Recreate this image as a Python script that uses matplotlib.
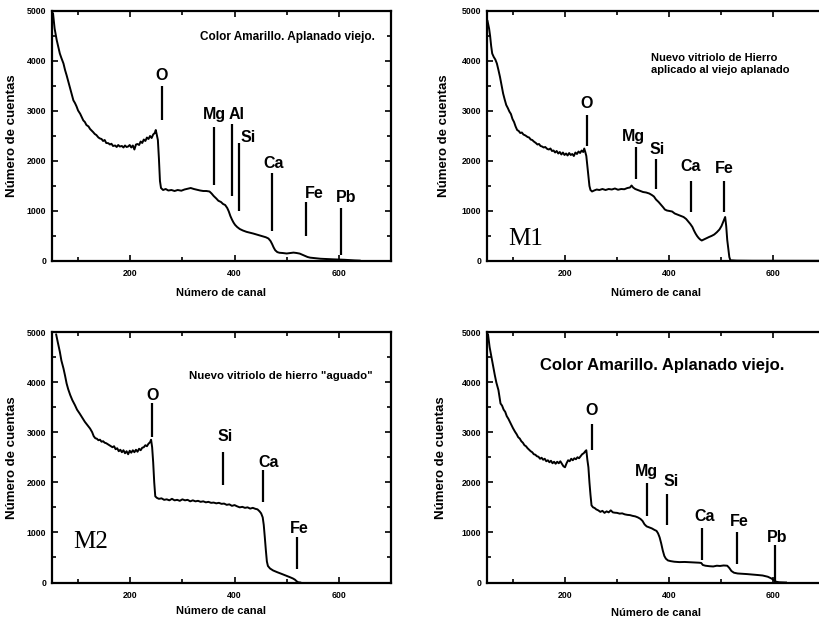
import matplotlib
matplotlib.use("Agg")
import matplotlib.pyplot as plt
from matplotlib.ticker import MultipleLocator

# ---------------- spectra (channel, counts) ----------------
ch_a = [52, 55, 59, 62, 65, 68, 72, 75, 78, 81, 84, 88, 91, 94, 97, 100, 104, 107, 110, 113,
        116, 120, 123, 126, 129, 132, 135, 139, 142, 145, 148, 151, 154, 158, 161, 164, 167,
        171, 174, 177, 180, 184, 187, 190, 193, 196, 199, 202, 205, 208, 211, 214, 217, 220,
        223, 226, 229, 232, 235, 238, 241, 244, 247, 249, 251, 253, 255, 257, 259, 263, 268,
        273, 279, 285, 291, 298, 304, 310, 316, 322, 328, 334, 340, 346, 352, 356, 360, 365,
        369, 374, 378, 382, 386, 389, 392, 395, 398, 401, 405, 410, 416, 423, 430, 436, 444,
        452, 460, 465, 469, 472, 475, 478, 482, 486, 492, 500, 507, 513, 519, 525, 530, 535,
        540, 545, 555, 565, 578, 590, 600, 610, 620, 630, 640]
counts_a = [4950, 4650, 4420, 4280, 4150, 4060, 3950, 3820, 3715, 3600, 3480, 3330, 3213, 3160,
            3093, 3010, 2945, 2880, 2812, 2780, 2720, 2691, 2640, 2610, 2577, 2540, 2520, 2470,
            2450, 2440, 2400, 2420, 2360, 2356, 2330, 2345, 2300, 2310, 2280, 2320, 2290, 2300,
            2270, 2310, 2280, 2290, 2320, 2270, 2310, 2230, 2330, 2340, 2320, 2390, 2360, 2430,
            2400, 2470, 2440, 2500, 2460, 2530, 2560, 2620, 2520, 2420, 2050, 1600, 1460, 1420,
            1440, 1410, 1420, 1400, 1420, 1406, 1430, 1445, 1460, 1440, 1425, 1410, 1400, 1400,
            1390, 1350, 1300, 1250, 1205, 1180, 1140, 1120, 1060, 990, 900, 830, 770, 723, 680,
            640, 610, 583, 565, 549, 525, 502, 475, 450, 400, 340, 270, 215, 178, 165, 160, 150,
            160, 168, 160, 148, 125, 100, 80, 67, 55, 45, 38, 33, 30, 25, 18, 12, 8]

ch_m1 = [51, 54, 56, 58, 60, 63, 66, 69, 72, 75, 78, 81, 84, 87, 90, 93, 96, 99, 102, 105, 108,
         111, 114, 117, 120, 124, 128, 131, 134, 137, 140, 144, 147, 150, 153, 156, 159, 162,
         166, 169, 172, 175, 178, 181, 184, 187, 190, 193, 196, 199, 202, 205, 208, 211, 214,
         217, 220, 223, 226, 229, 232, 235, 237, 239, 241, 243, 245, 247, 249, 252, 256, 261,
         266, 272, 278, 284, 290, 296, 302, 308, 314, 320, 325, 328, 331, 335, 340, 345, 350,
         356, 362, 367, 371, 375, 380, 385, 389, 392, 396, 401, 406, 411, 416, 422, 428, 433,
         437, 441, 445, 448, 451, 454, 457, 460, 463, 467, 472, 477, 482, 487, 492, 497, 501,
         505, 508, 510, 512, 514, 516, 518, 530, 560, 600, 650, 700]
counts_m1 = [4800, 4650, 4500, 4300, 4150, 4080, 4030, 3950, 3820, 3680, 3520, 3350, 3230, 3120,
             3060, 2990, 2940, 2840, 2780, 2690, 2620, 2600, 2560, 2570, 2530, 2510, 2480, 2470,
             2430, 2420, 2390, 2360, 2330, 2340, 2300, 2290, 2270, 2280, 2240, 2230, 2250, 2200,
             2210, 2170, 2200, 2150, 2180, 2130, 2170, 2120, 2150, 2110, 2160, 2120, 2140, 2100,
             2170, 2140, 2190, 2160, 2210, 2180, 2250, 2180, 2100, 1900, 1700, 1500, 1420, 1390,
             1410, 1430, 1420, 1440, 1420, 1440, 1430, 1450, 1425, 1440, 1435, 1460, 1470, 1510,
             1470, 1440, 1420, 1400, 1380, 1370, 1350, 1320, 1290, 1230, 1180, 1120, 1071, 1030,
             1010, 1000, 990, 950, 930, 905, 880, 840, 790, 740, 680, 610, 550, 500, 460, 430,
             410, 430, 456, 480, 502, 530, 575, 630, 700, 800, 880, 700, 420, 250, 80, 15, 8, 5,
             5, 4, 4]

ch_m2 = [58, 61, 65, 68, 72, 75, 78, 81, 85, 89, 94, 98, 103, 108, 113, 118, 123, 127, 130, 133,
         136, 139, 142, 145, 148, 151, 154, 157, 160, 163, 166, 169, 172, 175, 178, 181, 184,
         187, 190, 193, 196, 199, 202, 205, 208, 211, 214, 217, 220, 223, 226, 229, 232, 235,
         238, 240, 242, 244, 246, 248, 251, 255, 260, 265, 270, 275, 280, 285, 290, 295, 300,
         305, 310, 315, 320, 325, 330, 335, 340, 345, 350, 355, 360, 365, 370, 375, 380, 385,
         390, 395, 400, 405, 410, 415, 420, 425, 430, 435, 440, 444, 448, 451, 454, 456, 458,
         460, 462, 464, 468, 474, 482, 490, 498, 506, 512, 516, 519, 522, 526]
counts_m2 = [4950, 4800, 4607, 4430, 4273, 4130, 3973, 3860, 3740, 3640, 3540, 3450, 3373, 3290,
             3207, 3140, 3073, 3000, 2920, 2880, 2870, 2840, 2850, 2810, 2820, 2790, 2780, 2760,
             2740, 2720, 2700, 2720, 2660, 2680, 2620, 2650, 2600, 2640, 2580, 2620, 2560, 2630,
             2590, 2640, 2600, 2650, 2610, 2670, 2640, 2690, 2700, 2740, 2720, 2770, 2800, 2850,
             2700, 2400, 2000, 1720, 1690, 1670, 1680, 1650, 1660, 1640, 1670, 1640, 1650, 1630,
             1660, 1640, 1650, 1620, 1640, 1620, 1630, 1610, 1620, 1600, 1610, 1590, 1595, 1580,
             1590, 1570, 1575, 1550, 1560, 1530, 1545, 1520, 1500, 1510, 1490, 1500, 1475, 1490,
             1470, 1460, 1420, 1380, 1300, 1150, 907, 650, 420, 330, 280, 240, 205, 173, 140,
             107, 80, 55, 25, 5, 0]

ch_b = [52, 55, 59, 62, 65, 68, 72, 74, 76, 79, 82, 85, 88, 91, 94, 97, 100, 104, 107, 110, 113,
        116, 119, 122, 125, 128, 131, 134, 137, 140, 143, 146, 149, 152, 155, 158, 161, 164, 167,
        170, 173, 176, 179, 182, 185, 188, 191, 194, 197, 200, 203, 206, 209, 212, 215, 218, 221,
        224, 227, 230, 233, 236, 239, 241, 243, 245, 247, 249, 251, 254, 257, 260, 264, 268, 272,
        276, 280, 284, 288, 292, 296, 300, 305, 310, 315, 320, 325, 330, 335, 340, 345, 349, 353,
        357, 362, 367, 372, 376, 379, 382, 385, 388, 391, 394, 398, 403, 410, 420, 430, 440, 450,
        458, 462, 465, 470, 478, 485, 492, 498, 505, 512, 516, 520, 525, 532, 540, 550, 560, 570,
        580, 590, 597, 602, 606, 612, 625]
counts_b = [4950, 4700, 4473, 4300, 4140, 3990, 3840, 3700, 3573, 3530, 3450, 3407, 3320, 3270,
            3207, 3140, 3080, 3007, 2960, 2900, 2873, 2820, 2790, 2740, 2720, 2680, 2650, 2620,
            2600, 2560, 2550, 2520, 2510, 2470, 2490, 2450, 2470, 2420, 2440, 2400, 2430, 2380,
            2410, 2370, 2410, 2380, 2420, 2370, 2320, 2300, 2380, 2440, 2420, 2470, 2440, 2480,
            2460, 2500, 2480, 2520, 2560, 2580, 2620, 2640, 2450, 2300, 2000, 1750, 1540, 1500,
            1487, 1460, 1440, 1410, 1430, 1390, 1420, 1400, 1440, 1400, 1393, 1390, 1375, 1380,
            1360, 1350, 1345, 1330, 1320, 1300, 1270, 1230, 1160, 1120, 1100, 1080, 1050, 1030,
            980, 900, 780, 640, 530, 475, 440, 427, 415, 407, 410, 405, 400, 395, 390, 350, 335,
            325, 320, 335, 330, 340, 335, 290, 230, 195, 180, 175, 168, 160, 150, 140, 115, 80,
            45, 15, 5, 0]

# ---------------- element edge markers ----------------
# (symbol, channel, line bottom, line top, label x, label y)
marks_a = [("O", 260, 2811, 3494, 260, 3700),
           ("Mg", 360, 1526, 2677, 361, 2932),
           ("Al", 396, 1305, 2731, 404, 2932),
           ("Si", 409, 1004, 2355, 426, 2480),
           ("Ca", 471, 602, 1753, 474, 1945),
           ("Fe", 537, 502, 1171, 552, 1340),
           ("Pb", 604, 120, 1064, 614, 1272)]
marks_m1 = [("O", 242, 2310, 2912, 242, 3146),
            ("Mg", 336, 1640, 2276, 331, 2497),
            ("Si", 375, 1440, 2042, 378, 2229),
            ("Ca", 443, 971, 1607, 442, 1895),
            ("Fe", 506, 971, 1607, 506, 1841)]
marks_m2 = [("O", 242, 2907, 3573, 242, 3727),
            ("Si", 377, 1940, 2607, 382, 2907),
            ("Ca", 455, 1607, 2253, 465, 2393),
            ("Fe", 519, 273, 907, 524, 1073)]
marks_b = [("O", 251, 2640, 3173, 251, 3440),
           ("Mg", 358, 1320, 1987, 357, 2220),
           ("Si", 397, 1140, 1773, 405, 2020),
           ("Ca", 463, 440, 1093, 469, 1320),
           ("Fe", 530, 373, 1007, 535, 1227),
           ("Pb", 604, 7, 740, 607, 893)]

SANS = "Liberation Sans"
SERIF = "Liberation Serif"

fig = plt.figure(figsize=(8.19, 6.17), dpi=100)
fig.patch.set_facecolor("white")

W, H = 819.0, 617.0


def rect(left, top, right, bottom):
    return [left / W, 1 - bottom / H, (right - left) / W, (bottom - top) / H]


def panel(r, ch, counts, marks, ylab_x, xlab_y):
    ax = fig.add_axes(r)
    ax.plot(ch, counts, color="black", lw=1.4, solid_joinstyle="round")
    ax.set_xlim(50, 700)
    ax.set_ylim(0, 5000)
    ax.xaxis.set_major_locator(MultipleLocator(200))
    ax.xaxis.set_minor_locator(MultipleLocator(100))
    ax.yaxis.set_major_locator(MultipleLocator(1000))
    ax.yaxis.set_minor_locator(MultipleLocator(500))
    ax.tick_params(which="both", direction="in", top=True, right=True, width=1.2,
                   color="black")
    ax.tick_params(which="major", length=4.5, labelsize=6.3)
    ax.tick_params(axis="x", which="major", pad=6)
    ax.tick_params(axis="y", which="major", pad=4)
    ax.tick_params(which="minor", length=3)
    for lbl in ax.get_xticklabels() + ax.get_yticklabels():
        lbl.set_fontweight("bold")
        lbl.set_family(SANS)
    for s in ax.spines.values():
        s.set_linewidth(1.6)
    ax.set_xlabel("Número de canal", fontsize=8, fontweight="bold", family=SANS)
    ax.set_ylabel("Número de cuentas", fontsize=9.5, fontweight="bold", family=SANS)
    ax.yaxis.set_label_coords(ylab_x, 0.5)
    ax.xaxis.set_label_coords(0.5, xlab_y)
    for sym, x, y0, y1, lx, ly in marks:
        ax.plot([x, x], [y0, y1], color="black", lw=1.6, solid_capstyle="butt")
        ax.text(lx, ly, sym, fontsize=11.5, fontweight="bold", family=SANS,
                ha="center", va="center")
    return ax


ax1 = panel(rect(52, 11, 391, 261), ch_a, counts_a, marks_a, -0.10, -0.108)
ax1.text(501, 4472, "Color Amarillo. Aplanado viejo.", fontsize=8.5, fontweight="bold",
         family=SANS, ha="center", va="center")

ax2 = panel(rect(487, 11, 825, 261), ch_m1, counts_m1, marks_m1, -0.109, -0.108)
ax2.text(366, 3940, "Nuevo vitriolo de Hierro\naplicado al viejo aplanado", fontsize=8,
         fontweight="bold", family=SANS, ha="left", va="center", linespacing=1.15)
ax2.text(124, 436, "M1", fontsize=18, family=SERIF, ha="center", va="center")

ax3 = panel(rect(52, 332, 391, 582.5), ch_m2, counts_m2, marks_m2, -0.10, -0.094)
ax3.text(489, 4120, 'Nuevo vitriolo de hierro "aguado"', fontsize=8.2, fontweight="bold",
         family=SANS, ha="center", va="center")
ax3.text(124, 807, "M2", fontsize=18, family=SERIF, ha="center", va="center")

ax4 = panel(rect(487, 332, 825, 582.5), ch_b, counts_b, marks_b, -0.118, -0.10)
ax4.text(386, 4340, "Color Amarillo. Aplanado viejo.", fontsize=12, fontweight="bold",
         family=SANS, ha="center", va="center")

fig.savefig("out.png", dpi=100, facecolor="white")
